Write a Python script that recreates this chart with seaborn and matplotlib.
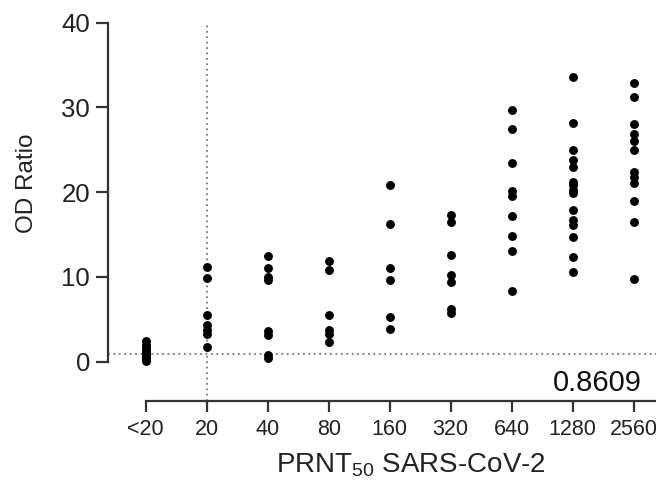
import pandas as pd
import seaborn as sns
import matplotlib
matplotlib.use('Agg')
import matplotlib.pyplot as plt

# 데이터
titers = ['<20', '20', '40', '80', '160', '320', '640', '1280', '2560']
od_lt20 = [2.4, 2.0, 1.7, 1.4, 1.1, 0.8, 0.5, 0.3, 0.1]
od_20 = [11.2, 9.9, 5.5, 4.3, 3.8, 3.3, 1.7]
od_40 = [12.5, 11.0, 10.0, 9.6, 3.6, 3.1, 0.8, 0.4]
od_80 = [11.9, 10.8, 5.5, 3.7, 3.3, 2.3]
od_160 = [20.9, 16.2, 11.1, 9.7, 5.3, 3.9]
od_320 = [17.3, 16.5, 12.6, 10.2, 9.4, 6.2, 5.8]
od_640 = [29.7, 27.5, 23.4, 20.2, 19.5, 17.2, 14.8, 13.1, 8.4]
od_1280 = [33.6, 28.2, 25.0, 23.8, 23.0, 21.2, 20.8, 20.3, 19.9,
           17.9, 16.7, 16.1, 14.7, 12.4, 10.6]
od_2560 = [32.9, 31.2, 28.1, 26.9, 26.0, 25.0, 22.4, 21.8, 21.1, 19.0, 16.5, 9.8]
cutoff = 0.8609

groups = [od_lt20, od_20, od_40, od_80, od_160, od_320, od_640, od_1280, od_2560]
df = pd.DataFrame({
    'titer': [t for t, g in zip(titers, groups) for _ in g],
    'od': [v for g in groups for v in g],
})

sns.set_style('white')
plt.rcParams['font.family'] = ['Liberation Sans', 'DejaVu Sans']
plt.rcParams['mathtext.default'] = 'regular'

fig = plt.figure(figsize=(6.56, 4.83), dpi=100)
ax = fig.add_axes([0.1646, 0.1704, 0.859, 0.7826])

sns.stripplot(data=df, x='titer', y='od', order=titers, jitter=False,
              color='black', size=6.4, linewidth=0, ax=ax)

# 컷오프 기준선
ax.axhline(cutoff, color='#777777', linestyle=(0, (1, 2)), lw=1.3, zorder=0)
ax.axvline(1, color='#777777', linestyle=(0, (1, 2)), lw=1.3, zorder=0)

ax.set_xlim(-0.62, 8.62)
ax.set_ylim(-4.6, 40)
ax.set_yticks([0, 10, 20, 30, 40])

for side in ['top', 'right']:
    ax.spines[side].set_visible(False)
ax.spines['left'].set_bounds(0, 40)
ax.spines['bottom'].set_bounds(0, 9)
for side in ['left', 'bottom']:
    ax.spines[side].set_linewidth(1.6)
    ax.spines[side].set_color('#333333')

ax.tick_params(bottom=True, left=True, width=1.6, color='#333333',
               labelcolor='#222222', direction='out')
ax.tick_params(axis='x', length=8, pad=5, labelsize=15.5)
ax.tick_params(axis='y', length=9, pad=4, labelsize=18.5)

ax.text(7.41, -2.5, '0.8609', fontsize=21, ha='center', va='center', color='#111111')

ax.set_xlabel('PRNT$_{50}$ SARS-CoV-2', fontsize=20, color='#222222')
ax.set_ylabel('OD Ratio', fontsize=17.5, color='#222222')
ax.xaxis.set_label_coords(0.538, -0.172)
ax.xaxis.label.set_va('center')
ax.yaxis.set_label_coords(-0.1437, 0.575)
ax.yaxis.label.set_va('center')

fig.savefig('out.png', dpi=100)
